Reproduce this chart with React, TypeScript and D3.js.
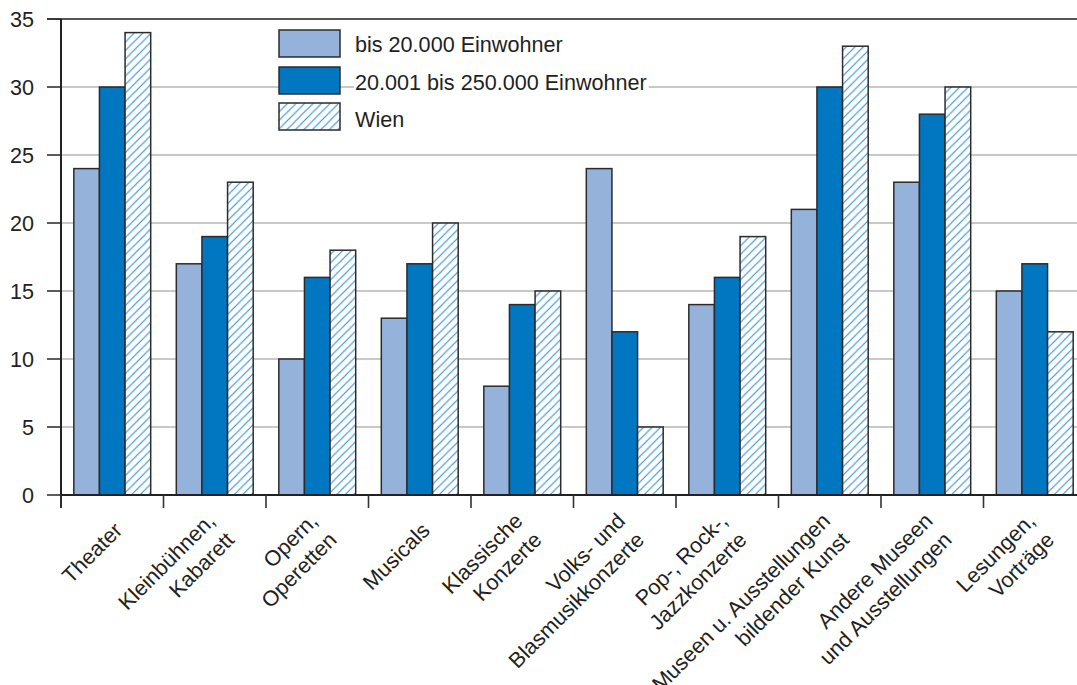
import React, { useLayoutEffect, useRef, useState } from "react";
import * as d3 from "d3";

const categories = [
  ["Theater"],
  ["Kleinbühnen,", "Kabarett"],
  ["Opern,", "Operetten"],
  ["Musicals"],
  ["Klassische", "Konzerte"],
  ["Volks- und", "Blasmusikkonzerte"],
  ["Pop-, Rock-,", "Jazzkonzerte"],
  ["Museen u. Ausstellungen", "bildender Kunst"],
  ["Andere Museen", "und Ausstellungen"],
  ["Lesungen,", "Vorträge"],
];
const seriesNames = ["bis 20.000 Einwohner", "20.001 bis 250.000 Einwohner", "Wien"];
const small = [24, 17, 10, 13, 8, 24, 14, 21, 23, 15];
const medium = [30, 19, 16, 17, 14, 12, 16, 30, 28, 17];
const vienna = [34, 23, 18, 20, 15, 5, 19, 33, 30, 12];
const yTicks = [0, 5, 10, 15, 20, 25, 30, 35];

const W = 1077;
const H = 685;
const FONT = "Arial, 'Liberation Sans', sans-serif";
const TEXT = "#231f20";
const FS = 21.6;

export default function App() {
  const keys = categories.map((c) => c.join(" "));
  const series = [small, medium, vienna];
  const x0 = d3.scaleBand<string>().domain(keys).range([61, 1086]).paddingInner(0.25).paddingOuter(0.125);
  const x1 = d3.scaleBand<number>().domain([0, 1, 2]).range([0, x0.bandwidth()]);
  const y = d3.scaleLinear().domain([0, 35]).range([495, 19]);
  const step = x0.step();
  const fills = ["#95b3da", "#0077c0", "url(#hatch)"];

  const legRefs = useRef<(SVGTextElement | null)[]>([]);
  const [legW, setLegW] = useState<number[]>([0, 0, 0]);
  useLayoutEffect(() => {
    setLegW(legRefs.current.map((t) => (t ? t.getComputedTextLength() : 0)));
  }, []);

  const legendBoxY = [30, 67, 103];
  const legendBaseY = [52, 90, 127];

  return (
    <svg width={W} height={H} style={{ position: "absolute", left: 0, top: 0, background: "#fff" }} fontFamily={FONT}>
      <defs>
        <pattern id="hatch" patternUnits="userSpaceOnUse" width={8.5} height={8.5}>
          <rect width={8.5} height={8.5} fill="#fff" />
          <path d="M-1,1 L1,-1 M0,8.5 L8.5,0 M7.5,9.5 L9.5,7.5" stroke="#2f8fd6" strokeWidth={1.1} />
        </pattern>
      </defs>
      {/* gridlines */}
      {yTicks.filter((t) => t > 0 && t < 35).map((t) => (
        <line key={t} x1={61} x2={W} y1={y(t)} y2={y(t)} stroke="#c8c8c8" strokeWidth={2} />
      ))}
      <line x1={47} x2={W} y1={y(35)} y2={y(35)} stroke="#555" strokeWidth={2} />
      {/* y ticks */}
      {yTicks.map((t) => (
        <g key={t}>
          <line x1={47} x2={61} y1={y(t)} y2={y(t)} stroke="#333" strokeWidth={1.6} />
          <text x={34} y={y(t)} dy="0.37em" textAnchor="end" fontSize={FS} fill={TEXT}>{t}</text>
        </g>
      ))}
      {/* bars */}
      {keys.map((k, i) => (
        <g key={k} transform={`translate(${x0(k)},0)`}>
          {series.map((s, j) => (
            <rect key={j} x={x1(j)} y={y(s[i])} width={x1.bandwidth()} height={y(0) - y(s[i])}
              fill={fills[j]} stroke="#2b2b2b" strokeWidth={1.5} />
          ))}
        </g>
      ))}
      {/* axes */}
      <line x1={61} x2={W} y1={y(0)} y2={y(0)} stroke="#222" strokeWidth={2} />
      <line x1={61} x2={61} y1={y(35)} y2={508} stroke="#222" strokeWidth={2} />
      {d3.range(keys.length + 1).map((i) => (
        <line key={i} x1={61 + i * step} x2={61 + i * step} y1={y(0)} y2={508} stroke="#333" strokeWidth={1.6} />
      ))}
      {/* category labels */}
      {categories.map((lines, i) => {
        const cx = (x0(keys[i]) as number) + x0.bandwidth() / 2;
        return (
          <g key={i} transform={`translate(${cx},${y(0)}) rotate(-45)`}>
            {lines.map((ln, j) => (
              <text key={j} x={-18} y={34 + (j - (lines.length - 1) / 2) * 27} textAnchor="end" fontSize={FS} fill={TEXT}>
                {ln}
              </text>
            ))}
          </g>
        );
      })}
      {/* legend */}
      {seriesNames.map((n, j) => (
        <g key={n}>
          <rect x={354} y={legendBaseY[j] - 17} width={legW[j] + 3} height={22} fill="#fff" />
          <rect x={279} y={legendBoxY[j]} width={61} height={27} fill={fills[j]} stroke="#2b2b2b" strokeWidth={1.5} />
          <text ref={(el) => { legRefs.current[j] = el; }} x={355} y={legendBaseY[j]} fontSize={FS} fill={TEXT}>{n}</text>
        </g>
      ))}
    </svg>
  );
}
